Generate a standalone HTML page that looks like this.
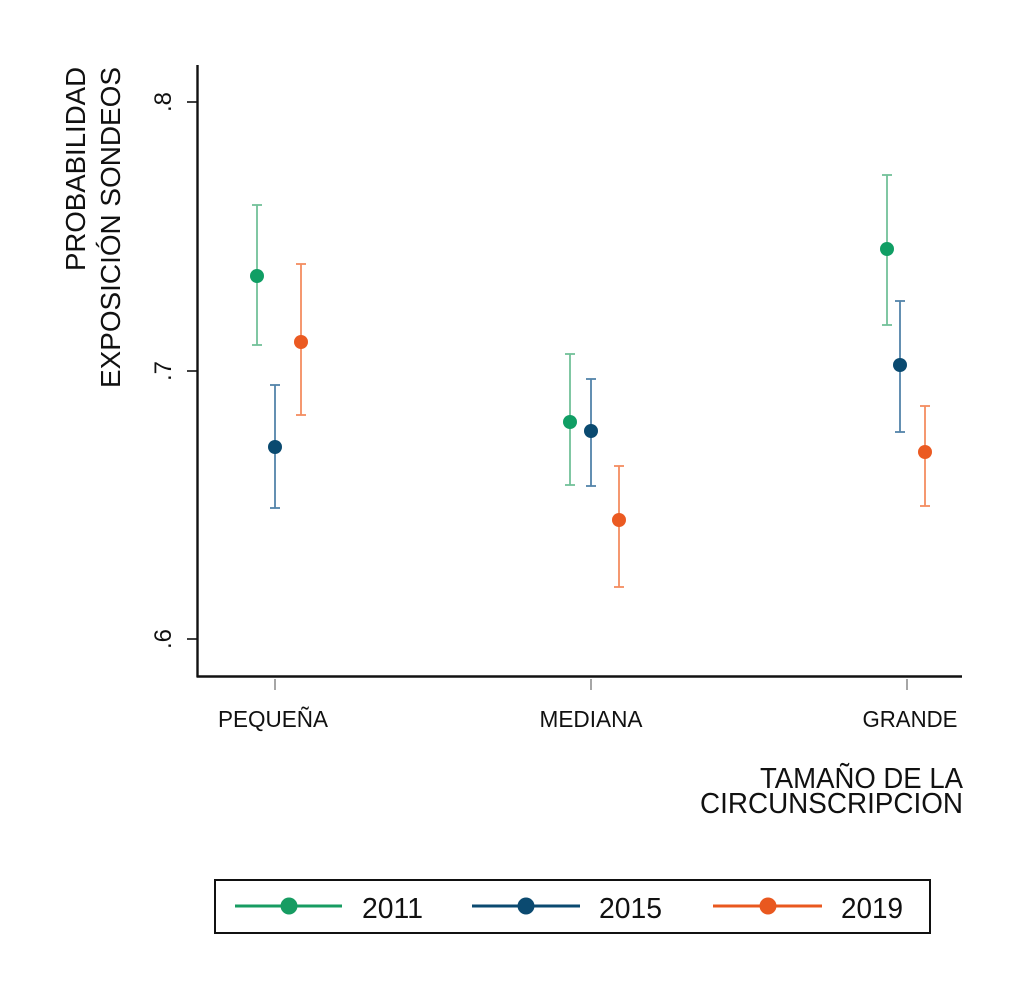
<!DOCTYPE html>
<html>
<head>
<meta charset="utf-8">
<style>
html,body{margin:0;padding:0;background:#fff;}
svg{display:block;}
text{font-family:"Liberation Sans",Arial,sans-serif;fill:#111;}
</style>
</head>
<body>
<svg width="1032" height="1004" viewBox="0 0 1032 1004" xmlns="http://www.w3.org/2000/svg">
<rect width="1032" height="1004" fill="#fff"/>

<!-- Y axis title -->
<text transform="translate(85,67) rotate(-90)" text-anchor="end" font-size="28" textLength="204" lengthAdjust="spacingAndGlyphs">PROBABILIDAD</text>
<text transform="translate(120,67) rotate(-90)" text-anchor="end" font-size="28" textLength="321" lengthAdjust="spacingAndGlyphs">EXPOSICIÓN SONDEOS</text>

<!-- Y tick labels -->
<text transform="translate(171,102) rotate(-90)" text-anchor="middle" font-size="24">.8</text>
<text transform="translate(171,371) rotate(-90)" text-anchor="middle" font-size="24">.7</text>
<text transform="translate(171,639) rotate(-90)" text-anchor="middle" font-size="24">.6</text>

<!-- axes -->
<line x1="197.5" y1="65" x2="197.5" y2="677" stroke="#111" stroke-width="2.4"/>
<line x1="196.5" y1="676.5" x2="962" y2="676.5" stroke="#111" stroke-width="2.4"/>
<line x1="187" y1="102" x2="197" y2="102" stroke="#111" stroke-width="1.6"/>
<line x1="187" y1="371" x2="197" y2="371" stroke="#111" stroke-width="1.6"/>
<line x1="187" y1="639" x2="197" y2="639" stroke="#111" stroke-width="1.6"/>

<!-- x category ticks -->
<line x1="275" y1="679" x2="275" y2="690" stroke="#777" stroke-width="1.3"/>
<line x1="591" y1="679" x2="591" y2="690" stroke="#777" stroke-width="1.3"/>
<line x1="907" y1="679" x2="907" y2="690" stroke="#777" stroke-width="1.3"/>

<!-- x category labels -->
<text x="273" y="727" text-anchor="middle" font-size="23" textLength="110" lengthAdjust="spacingAndGlyphs">PEQUEÑA</text>
<text x="591" y="727" text-anchor="middle" font-size="23" textLength="103" lengthAdjust="spacingAndGlyphs">MEDIANA</text>
<text x="910" y="727" text-anchor="middle" font-size="23" textLength="95" lengthAdjust="spacingAndGlyphs">GRANDE</text>

<!-- x axis title -->
<text x="963" y="788" text-anchor="end" font-size="29" textLength="203" lengthAdjust="spacingAndGlyphs">TAMAÑO DE LA</text>
<text x="963" y="813" text-anchor="end" font-size="29" textLength="263" lengthAdjust="spacingAndGlyphs">CIRCUNSCRIPCION</text>

<!-- error bars -->
<g stroke-width="1.8" fill="none">
  <g stroke="#72c199">
    <line x1="257" y1="205" x2="257" y2="345"/>
    <line x1="252" y1="205" x2="262" y2="205"/>
    <line x1="252" y1="345" x2="262" y2="345"/>
  </g>
  <g stroke="#5283a9">
    <line x1="275" y1="385" x2="275" y2="508"/>
    <line x1="270" y1="385" x2="280" y2="385"/>
    <line x1="270" y1="508" x2="280" y2="508"/>
  </g>
  <g stroke="#f48d60">
    <line x1="301" y1="264" x2="301" y2="415"/>
    <line x1="296" y1="264" x2="306" y2="264"/>
    <line x1="296" y1="415" x2="306" y2="415"/>
  </g>
  <g stroke="#72c199">
    <line x1="570" y1="354" x2="570" y2="485"/>
    <line x1="565" y1="354" x2="575" y2="354"/>
    <line x1="565" y1="485" x2="575" y2="485"/>
  </g>
  <g stroke="#5283a9">
    <line x1="591" y1="379" x2="591" y2="486"/>
    <line x1="586" y1="379" x2="596" y2="379"/>
    <line x1="586" y1="486" x2="596" y2="486"/>
  </g>
  <g stroke="#f48d60">
    <line x1="619" y1="466" x2="619" y2="587"/>
    <line x1="614" y1="466" x2="624" y2="466"/>
    <line x1="614" y1="587" x2="624" y2="587"/>
  </g>
  <g stroke="#72c199">
    <line x1="887" y1="175" x2="887" y2="325"/>
    <line x1="882" y1="175" x2="892" y2="175"/>
    <line x1="882" y1="325" x2="892" y2="325"/>
  </g>
  <g stroke="#5283a9">
    <line x1="900" y1="301" x2="900" y2="432"/>
    <line x1="895" y1="301" x2="905" y2="301"/>
    <line x1="895" y1="432" x2="905" y2="432"/>
  </g>
  <g stroke="#f48d60">
    <line x1="925" y1="406" x2="925" y2="506"/>
    <line x1="920" y1="406" x2="930" y2="406"/>
    <line x1="920" y1="506" x2="930" y2="506"/>
  </g>
</g>

<!-- markers -->
<g>
  <circle cx="257" cy="276" r="7" fill="#109e64"/>
  <circle cx="275" cy="447" r="7" fill="#0a4a70"/>
  <circle cx="301" cy="342" r="7" fill="#eb5a22"/>
  <circle cx="570" cy="422" r="7" fill="#109e64"/>
  <circle cx="591" cy="431" r="7" fill="#0a4a70"/>
  <circle cx="619" cy="520" r="7" fill="#eb5a22"/>
  <circle cx="887" cy="249" r="7" fill="#109e64"/>
  <circle cx="900" cy="365" r="7" fill="#0a4a70"/>
  <circle cx="925" cy="452" r="7" fill="#eb5a22"/>
</g>

<!-- legend -->
<rect x="215" y="880" width="715" height="53" fill="#fff" stroke="#111" stroke-width="2"/>
<line x1="235" y1="906" x2="342" y2="906" stroke="#179c62" stroke-width="3"/>
<circle cx="289" cy="906" r="8.5" fill="#179c62"/>
<text x="362" y="918" font-size="29" textLength="61" lengthAdjust="spacingAndGlyphs">2011</text>

<line x1="472" y1="906" x2="580" y2="906" stroke="#0b4a70" stroke-width="3"/>
<circle cx="526" cy="906" r="8.5" fill="#0b4a70"/>
<text x="599" y="918" font-size="29" textLength="63" lengthAdjust="spacingAndGlyphs">2015</text>

<line x1="713" y1="906" x2="822" y2="906" stroke="#e9581f" stroke-width="3"/>
<circle cx="768" cy="906" r="8.5" fill="#e9581f"/>
<text x="841" y="918" font-size="29" textLength="62" lengthAdjust="spacingAndGlyphs">2019</text>
</svg>
</body>
</html>
